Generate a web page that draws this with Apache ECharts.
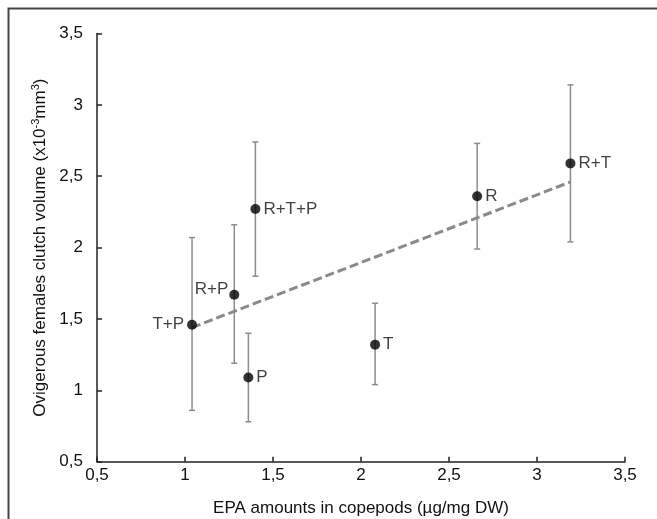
<!DOCTYPE html>
<html><head><meta charset="utf-8">
<script src="https://cdn.jsdelivr.net/npm/echarts@6/dist/echarts.min.js"></script>
<style>html,body{margin:0;padding:0;background:#fff}#c{width:657px;height:519px}</style>
</head><body><div id="c"></div>
<script>
const groups = ['T+P','R+P','P','R+T+P','T','R','R+T'];
const epa = [1.04, 1.28, 1.36, 1.40, 2.08, 2.66, 3.19];
const volume = [1.46, 1.67, 1.09, 2.27, 1.32, 2.36, 2.59];
const errLow = [0.86, 1.19, 0.78, 1.80, 1.04, 1.99, 2.04];
const errHigh = [2.07, 2.16, 1.40, 2.74, 1.61, 2.73, 3.14];
const labelSide = ['left','left','right','right','right','right','right'];
const trendX = [1.04, 3.19];
const trendY = [1.44, 2.46];
const ticks = [0.5, 1, 1.5, 2, 2.5, 3, 3.5];

const FONT = 'Liberation Sans, Arial, sans-serif';
const fmt = v => String(v).replace('.', ',');

const chart = echarts.init(document.getElementById('c'), null, {renderer:'canvas'});
const pts = groups.map((g,i)=>({name:g, value:[epa[i], volume[i]],
  label:{position:labelSide[i], offset: g==='R+P'?[2,-5]:[0,0]}}));
const errData = groups.map((g,i)=>[epa[i], errLow[i], errHigh[i]]);

chart.setOption({
  animation:false,
  backgroundColor:'#fff',
  graphic:[{type:'rect', shape:{x:8.5,y:8.5,width:700,height:600}, style:{fill:'none', stroke:'#444', lineWidth:2}, silent:true}],
  grid:{left:97, right:32, top:33.5, bottom:57.3, containLabel:false, outerBoundsMode:'none'},
  xAxis:{type:'value', min:ticks[0], max:ticks[ticks.length-1], interval:0.5,
    name:'EPA amounts in copepods (µg/mg DW)', nameLocation:'middle', nameGap:38,
    nameTextStyle:{fontFamily:FONT, fontSize:17, color:'#111'},
    axisLine:{lineStyle:{color:'#222', width:1.5}},
    axisTick:{show:true, inside:true, length:5, lineStyle:{color:'#222', width:1.5}},
    axisLabel:{formatter:fmt, fontFamily:FONT, fontSize:17, color:'#111', margin:5},
    splitLine:{show:false}},
  yAxis:{type:'value', min:ticks[0], max:ticks[ticks.length-1], interval:0.5,
    name:'{n|Ovigerous females clutch volume (x10}{s|-3}{n|mm}{s|3}{n|)}', nameLocation:'middle', nameGap:46, nameRotate:90,
    nameTextStyle:{rich:{n:{fontFamily:FONT, fontSize:17, color:'#111'}, s:{fontFamily:FONT, fontSize:11, color:'#111', verticalAlign:'top', padding:[0,0,8,0]}}},
    axisLine:{show:true, lineStyle:{color:'#222', width:1.5}},
    axisTick:{show:true, inside:true, length:5, lineStyle:{color:'#222', width:1.5}},
    axisLabel:{formatter:fmt, fontFamily:FONT, fontSize:17, color:'#111', margin:14},
    splitLine:{show:false}},
  series:[
    {type:'custom', data:errData, z:2,
     renderItem:function(params, api){
       const x = api.value(0);
       const lo = api.coord([x, api.value(1)]);
       const hi = api.coord([x, api.value(2)]);
       const cw = 3;
       const st = {stroke:'#8c8c8c', lineWidth:1.5};
       return {type:'group', children:[
         {type:'line', shape:{x1:lo[0],y1:lo[1],x2:hi[0],y2:hi[1]}, style:st},
         {type:'line', shape:{x1:lo[0]-cw,y1:lo[1],x2:lo[0]+cw,y2:lo[1]}, style:st},
         {type:'line', shape:{x1:hi[0]-cw,y1:hi[1],x2:hi[0]+cw,y2:hi[1]}, style:st}
       ]};
     }},
    {type:'line', data:trendX.map((x,i)=>[x, trendY[i]]), symbol:'none', z:3,
     lineStyle:{color:'#8a8a8a', width:3, type:[9,4]}},
    {type:'scatter', data:pts, symbolSize:10, z:4,
     itemStyle:{color:'#000'},
     label:{show:true, formatter:'{b}', fontFamily:FONT, fontSize:17, color:'#111', distance:3}}
  ]
});
</script></body></html>
